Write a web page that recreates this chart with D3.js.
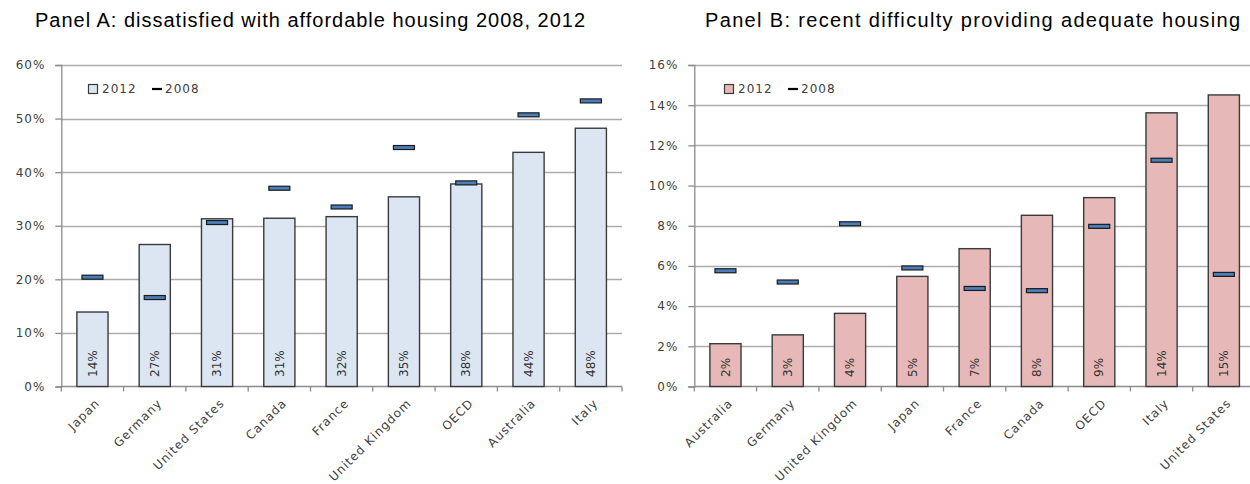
<!DOCTYPE html>
<html>
<head>
<meta charset="utf-8">
<script src="https://cdn.jsdelivr.net/npm/d3@7/dist/d3.min.js"></script>
<style>
  html, body { margin: 0; padding: 0; background: #fff; }
  svg { display: block; }
  .tick text { font-family: "DejaVu Sans", sans-serif; font-size: 12px; fill: #404040; letter-spacing: 1px; }
</style>
</head>
<body>
<svg id="chart" width="1250" height="484"></svg>
<script>
// ---- Data ----
const titleA = "Panel A: dissatisfied with affordable housing 2008, 2012";
const categoriesA = ["Japan", "Germany", "United States", "Canada", "France", "United Kingdom", "OECD", "Australia", "Italy"];
const values2012A = [0.139, 0.265, 0.313, 0.314, 0.317, 0.354, 0.378, 0.437, 0.482];
const values2008A = [0.204, 0.166, 0.306, 0.370, 0.335, 0.446, 0.380, 0.507, 0.533];
const labelsA = ["14%", "27%", "31%", "31%", "32%", "35%", "38%", "44%", "48%"];
const yTicksA = [0, 0.1, 0.2, 0.3, 0.4, 0.5, 0.6];

const titleB = "Panel B: recent difficulty providing adequate housing";
const categoriesB = ["Australia", "Germany", "United Kingdom", "Japan", "France", "Canada", "OECD", "Italy", "United States"];
const values2012B = [0.0213, 0.0257, 0.0364, 0.0548, 0.0686, 0.0852, 0.0940, 0.1362, 0.1451];
const values2008B = [0.0576, 0.0520, 0.0810, 0.0590, 0.0488, 0.0477, 0.0797, 0.1126, 0.0558];
const labelsB = ["2%", "3%", "4%", "5%", "7%", "8%", "9%", "14%", "15%"];
const yTicksB = [0, 0.02, 0.04, 0.06, 0.08, 0.10, 0.12, 0.14, 0.16];

const legendLabels = ["2012", "2008"];

// ---- Drawing ----
const svg = d3.select("#chart");
const fmt = d3.format(".0%");

function panel(opts) {
  const { title, titleX, titleW, cats, v2012, v2008, labels, yTicks, yMax, x0, x1, fill, legendX } = opts;
  const yTop = 65, yBot = 386.5;
  const g = svg.append("g");

  const x = d3.scaleBand().domain(cats).range([x0, x1]).paddingInner(0.5).paddingOuter(0.25);
  const y = d3.scaleLinear().domain([0, yMax]).range([yBot, yTop]);

  // title
  g.append("text").attr("x", titleX).attr("y", 27)
    .attr("font-family", "Liberation Sans, Arial, sans-serif").attr("font-size", 20)
    .attr("textLength", titleW).attr("lengthAdjust", "spacing")
    .attr("fill", "#000").text(title);

  // gridlines
  g.append("g").selectAll("line").data(yTicks.filter(d => d > 0)).join("line")
    .attr("x1", x0).attr("x2", Math.min(x1, 1250))
    .attr("y1", d => Math.round(y(d)) + 0.5).attr("y2", d => Math.round(y(d)) + 0.5)
    .attr("stroke", "#acacac").attr("stroke-width", 1.3);

  // y axis
  const ya = g.append("g").attr("transform", `translate(${x0},0)`)
    .call(d3.axisLeft(y).tickValues(yTicks).tickFormat(fmt).tickSize(6).tickPadding(10));
  ya.select(".domain").attr("stroke", "#8c8c8c").attr("stroke-width", 1.3);
  ya.selectAll(".tick line").attr("stroke", "#8c8c8c").attr("stroke-width", 1.3);

  // x axis line & boundary ticks
  const step = x.step();
  const gap = (step - x.bandwidth()) / 2;
  const bounds = cats.map(c => x(c) - gap).concat([x(cats[cats.length - 1]) + x.bandwidth() + gap]);
  g.append("line").attr("x1", x0).attr("x2", Math.min(x1, 1250))
    .attr("y1", y(0)).attr("y2", y(0)).attr("stroke", "#8c8c8c").attr("stroke-width", 1.3);
  g.append("g").selectAll("line").data(bounds).join("line")
    .attr("x1", d => d).attr("x2", d => d).attr("y1", y(0)).attr("y2", y(0) + 5)
    .attr("stroke", "#8c8c8c").attr("stroke-width", 1.3);

  // bars
  g.append("g").selectAll("rect").data(cats).join("rect")
    .attr("x", c => x(c)).attr("width", x.bandwidth())
    .attr("y", (c, i) => y(v2012[i])).attr("height", (c, i) => y(0) - y(v2012[i]))
    .attr("fill", fill).attr("stroke", "#3a3a3a").attr("stroke-width", 1.4);

  // value labels inside bars
  g.append("g").selectAll("text").data(cats).join("text")
    .attr("transform", c => `translate(${x(c) + x.bandwidth() / 2},377) rotate(-90)`)
    .attr("dy", "0.35em").attr("text-anchor", "start")
    .attr("font-family", "DejaVu Sans, sans-serif").attr("font-size", 12).attr("fill", "#333")
    .text((c, i) => labels[i]);

  // 2008 markers
  g.append("g").selectAll("rect").data(cats).join("rect")
    .attr("x", c => x(c) + x.bandwidth() / 2 - 10.5).attr("width", 21)
    .attr("y", (c, i) => y(v2008[i]) - 2).attr("height", 4)
    .attr("fill", "#4a7ebb").attr("stroke", "#1a1a1a").attr("stroke-width", 1.2);

  // x labels
  g.append("g").selectAll("text").data(cats).join("text")
    .attr("transform", c => `translate(${x(c) + x.bandwidth() / 2 + 5},401) rotate(-45)`)
    .attr("dy", "0.35em").attr("text-anchor", "end")
    .attr("font-family", "DejaVu Sans, sans-serif").attr("font-size", 12)
    .attr("letter-spacing", "1px").attr("fill", "#404040")
    .text(c => c);

  // legend
  const lg = g.append("g").attr("transform", `translate(${legendX},89)`);
  lg.append("rect").attr("x", 0.5).attr("y", -4.5).attr("width", 9).attr("height", 9)
    .attr("fill", fill).attr("stroke", "#3a3a3a").attr("stroke-width", 1.2);
  lg.append("text").attr("x", 14).attr("dy", "0.35em")
    .attr("font-family", "DejaVu Sans, sans-serif").attr("font-size", 12)
    .attr("letter-spacing", "1px").attr("fill", "#404040")
    .text(legendLabels[0]);
  lg.append("line").attr("x1", 64).attr("x2", 74).attr("y1", 0).attr("y2", 0)
    .attr("stroke", "#000").attr("stroke-width", 2.2);
  lg.append("text").attr("x", 77).attr("dy", "0.35em")
    .attr("font-family", "DejaVu Sans, sans-serif").attr("font-size", 12)
    .attr("letter-spacing", "1px").attr("fill", "#404040")
    .text(legendLabels[1]);
}

panel({ title: titleA, titleX: 35, titleW: 550, cats: categoriesA, v2012: values2012A, v2008: values2008A,
  labels: labelsA, yTicks: yTicksA, yMax: 0.6, x0: 61.3, x1: 622, fill: "#dce6f2", legendX: 88 });
panel({ title: titleB, titleX: 705, titleW: 535, cats: categoriesB, v2012: values2012B, v2008: values2008B,
  labels: labelsB, yTicks: yTicksB, yMax: 0.16, x0: 694.3, x1: 1255, fill: "#e6b9b8", legendX: 724 });
</script>
</body>
</html>
